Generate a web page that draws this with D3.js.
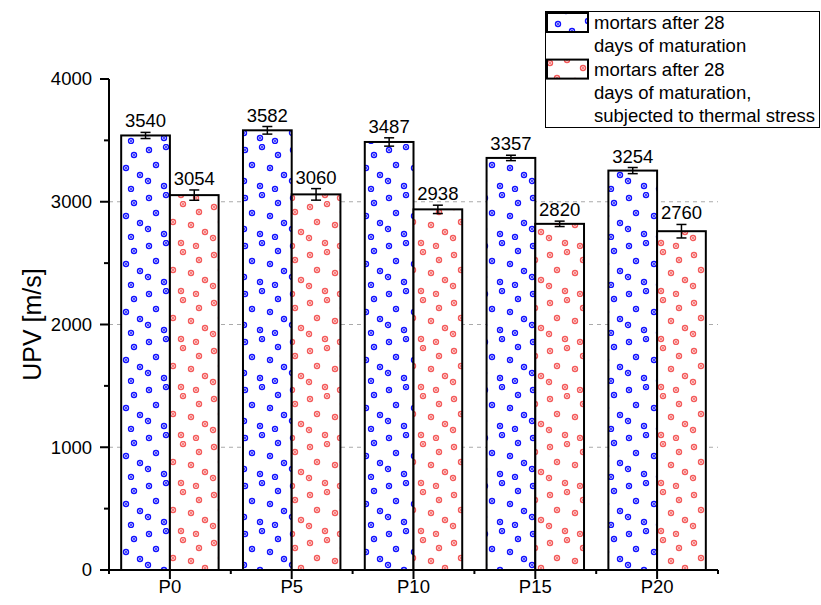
<!DOCTYPE html>
<html>
<head>
    <style>
        body { margin: 0; background: #fff; }
        svg text { font-family: Arial, "Liberation Sans", sans-serif; fill: #000; }
        .grid line { stroke: #aaa; stroke-dasharray: 4,4; stroke-width: 1; }
        .bar { stroke: #000; stroke-width: 2; }
        .err { stroke: #000; stroke-width: 1.5; }
    </style>
    <script src="https://d3js.org/d3.v7.min.js"></script>
</head>
<body>
    <svg width="821" height="605"></svg>
    <script>
        // data
        let categories = ["P0", "P5", "P10", "P15", "P20"];
        let after28 = [3540, 3582, 3487, 3357, 3254];
        let after28Err = [25, 31, 34, 22, 25];
        let thermal = [3054, 3060, 2938, 2820, 2760];
        let thermalErr = [42, 47, 34, 22, 55];
        let yTicks = [0, 1000, 2000, 3000, 4000];
        let yMinor = [500, 1500, 2500, 3500];
        let gridTicks = [1000, 2000, 3000];
        let seriesNames = ["after28", "thermal"];
        let legendLines = [
            ["mortars after 28", "days of maturation"],
            ["mortars after 28", "days of maturation,", "subjected to thermal stress"]
        ];

        let svg = d3.select("svg");
        let mLeft = 109, mRight = 718, mTop = 79, mBottom = 570;

        let x = d3.scaleBand()
            .domain(categories)
            .range([mLeft, mRight])
            .paddingInner(0.2)
            .paddingOuter(0.1);

        let xs = d3.scaleBand()
            .domain(seriesNames)
            .range([0, x.bandwidth()]);

        let y = d3.scaleLinear()
            .domain([0, 4000])
            .range([mBottom, mTop]);

        // dotted patterns
        let defs = svg.append("defs");
        let dotPos = [[5,6],[22,3],[38,11],[12,21],[30,24],[44,31],[4,37],[20,42],[35,45]];
        function makePattern(id, color, shift) {
            let p = defs.append("pattern")
                .attr("id", id)
                .attr("patternUnits", "userSpaceOnUse")
                .attr("width", 48)
                .attr("height", 48)
                .attr("patternTransform", "translate(" + shift[0] + "," + shift[1] + ")");
            p.append("rect").attr("width", 48).attr("height", 48).attr("fill", "#fff");
            dotPos.forEach(function(d) {
                p.append("circle").attr("cx", d[0]).attr("cy", d[1]).attr("r", 2.5)
                    .attr("fill", "none").attr("stroke", color).attr("stroke-width", 1.4);
                p.append("circle").attr("cx", d[0]).attr("cy", d[1]).attr("r", 1)
                    .attr("fill", color);
            });
        }
        makePattern("patBlue", "#1010ff", [0, 0]);
        makePattern("patRed", "#f45a5a", [17, 9]);
        let fills = { after28: "url(#patBlue)", thermal: "url(#patRed)" };

        // grid
        svg.append("g")
            .attr("class", "grid")
            .selectAll("line")
            .data(gridTicks)
            .enter().append("line")
            .attr("x1", mLeft).attr("x2", mRight)
            .attr("y1", d => y(d)).attr("y2", d => y(d));

        // bars
        let rows = categories.map(function(c, i) {
            return [
                { cat: c, key: "after28", v: after28[i], e: after28Err[i] },
                { cat: c, key: "thermal", v: thermal[i], e: thermalErr[i] }
            ];
        }).flat();

        let g = svg.append("g");
        g.selectAll("rect")
            .data(rows)
            .enter().append("rect")
            .attr("class", "bar")
            .attr("x", d => x(d.cat) + xs(d.key))
            .attr("y", d => y(d.v))
            .attr("width", xs.bandwidth())
            .attr("height", d => y(0) - y(d.v))
            .attr("fill", d => fills[d.key]);

        // error bars
        let eb = g.selectAll(".errg")
            .data(rows)
            .enter().append("g")
            .attr("class", "err")
            .attr("transform", d => "translate(" + (x(d.cat) + xs(d.key) + xs.bandwidth() / 2) + ",0)");
        eb.append("line").attr("y1", d => y(d.v + d.e)).attr("y2", d => y(d.v - d.e));
        eb.append("line").attr("x1", -5).attr("x2", 5).attr("y1", d => y(d.v + d.e)).attr("y2", d => y(d.v + d.e));
        eb.append("line").attr("x1", -5).attr("x2", 5).attr("y1", d => y(d.v - d.e)).attr("y2", d => y(d.v - d.e));

        // value labels
        g.selectAll(".val")
            .data(rows)
            .enter().append("text")
            .attr("x", d => x(d.cat) + xs(d.key) + xs.bandwidth() / 2)
            .attr("y", d => y(d.v + d.e) - 5)
            .attr("text-anchor", "middle")
            .style("font-size", "18.5px")
            .text(d => d.v);

        // y axis
        let ax = svg.append("g").attr("stroke", "#000").attr("stroke-width", 2);
        ax.append("line").attr("x1", mLeft).attr("x2", mLeft).attr("y1", mTop).attr("y2", mBottom);
        ax.selectAll(".ymaj").data(yTicks).enter().append("line")
            .attr("x1", mLeft - 9).attr("x2", mLeft)
            .attr("y1", d => y(d)).attr("y2", d => y(d));
        ax.selectAll(".ymin").data(yMinor).enter().append("line")
            .attr("x1", mLeft - 5).attr("x2", mLeft)
            .attr("y1", d => y(d)).attr("y2", d => y(d));

        svg.append("g").selectAll("text")
            .data(yTicks)
            .enter().append("text")
            .attr("x", mLeft - 17)
            .attr("y", d => y(d))
            .attr("dy", "0.35em")
            .attr("text-anchor", "end")
            .style("font-size", "18.5px")
            .text(d => d);

        // x axis
        ax.append("line").attr("x1", mLeft).attr("x2", mRight).attr("y1", mBottom).attr("y2", mBottom);
        ax.selectAll(".xmaj").data(categories).enter().append("line")
            .attr("x1", d => x(d) + x.bandwidth() / 2).attr("x2", d => x(d) + x.bandwidth() / 2)
            .attr("y1", mBottom).attr("y2", mBottom + 9);
        let bounds = categories.map(c => x(c) - x.step() * x.paddingOuter()).concat([mRight]);
        ax.selectAll(".xmin").data(bounds).enter().append("line")
            .attr("x1", d => d).attr("x2", d => d)
            .attr("y1", mBottom).attr("y2", mBottom + 4);

        svg.append("g").selectAll("text")
            .data(categories)
            .enter().append("text")
            .attr("x", d => x(d) + x.bandwidth() / 2)
            .attr("y", 593)
            .attr("text-anchor", "middle")
            .style("font-size", "18.5px")
            .text(d => d);

        svg.append("text")
            .attr("transform", "translate(41," + ((mTop + mBottom) / 2) + ") rotate(-90)")
            .attr("text-anchor", "middle")
            .style("font-size", "25px")
            .text("UPV [m/s]");

        // legend
        let lg = svg.append("g");
        lg.append("rect")
            .attr("x", 545.5).attr("y", 11.5).attr("width", 274).attr("height", 116)
            .attr("fill", "#fff").attr("stroke", "#000").attr("stroke-width", 1);
        let lineH = 23.3;
        let row = 0;
        seriesNames.forEach(function(k, i) {
            lg.append("rect")
                .attr("x", 547).attr("y", 13 + row * lineH)
                .attr("width", 41).attr("height", 19)
                .attr("fill", fills[k]).attr("stroke", "#000").attr("stroke-width", 2);
            legendLines[i].forEach(function(t) {
                lg.append("text")
                    .attr("x", 594)
                    .attr("y", 29 + row * lineH)
                    .style("font-size", "18.5px")
                    .text(t);
                row++;
            });
        });
    </script>
</body>
</html>
